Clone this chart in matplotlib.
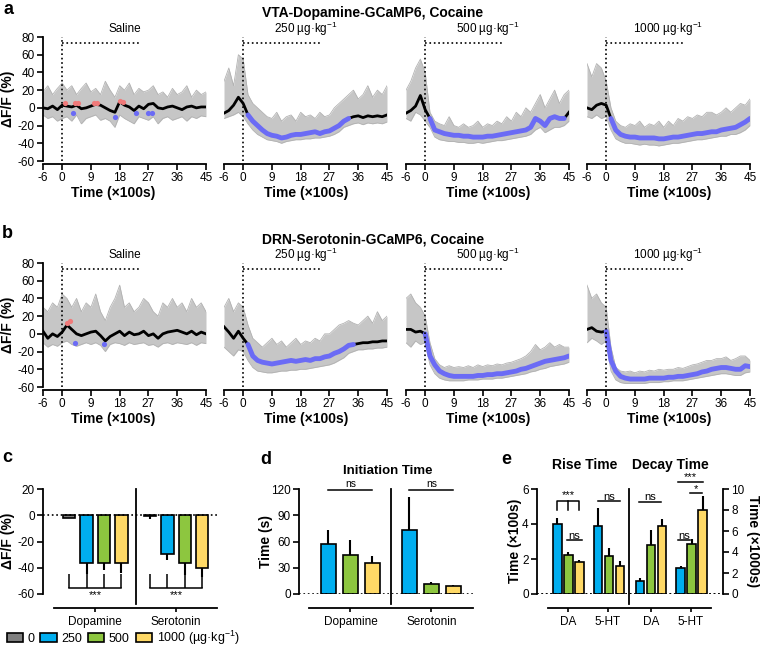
import numpy as np
import matplotlib
matplotlib.use('Agg')
import matplotlib.pyplot as plt
from matplotlib.patches import Patch

plt.rcParams['font.family'] = ['Liberation Sans', 'DejaVu Sans']
plt.rcParams['axes.unicode_minus'] = False
plt.rcParams['mathtext.fontset'] = 'custom'
plt.rcParams['mathtext.rm'] = 'Liberation Sans'
plt.rcParams['mathtext.it'] = 'Liberation Sans:italic'
plt.rcParams['mathtext.bf'] = 'Liberation Sans:bold'

# ---- trace data (x in 100 s, step 1.5 from -6 to 45) ----
t_grid = np.arange(-6, 45.01, 1.5)

vta_sal_mean = [0, -1, 2, -2, 3, 2, 1, 3, -1, 0, 2, 4, 3, 0, -3, -5, 7, 3, 1, -3, 2, -1, 4, 5, 0, -1, 1, 2, 0, -2, 1, 2, 0, 1, 1]
vta_sal_hi = [18, 25, 15, 22, 28, 20, 25, 15, 22, 28, 18, 22, 15, 30, 20, 12, 25, 20, 28, 15, 22, 18, 20, 25, 15, 18, 12, 22, 15, 18, 25, 12, 20, 15, 18]
vta_sal_lo = [-8, -12, -10, -15, -12, -10, -15, -8, -18, -12, -10, -8, -14, -12, -15, -22, -8, -12, -15, -18, -10, -12, -14, -10, -18, -12, -10, -14, -12, -10, -15, -10, -12, -9, -10]
vta_sal_up_x = [1, 4, 5, 10, 11, 18, 19]
vta_sal_up_y = [6, 6, 6, 6, 6, 8, 7]
vta_sal_dn_x = [3.5, 16.5, 23, 27, 28]
vta_sal_dn_y = [-6, -10, -6, -6, -6]

vta_250_mean = [-6, -3, 3, 12, 5, -8, -15, -20, -25, -29, -31, -32, -34, -33, -31, -30, -30, -29, -28, -27, -29, -27, -26, -23, -20, -15, -12, -10, -9, -11, -9, -10, -9, -10, -8]
vta_250_hi = [30, 45, 25, 60, 55, 15, 5, 0, -5, -10, -12, -5, -15, -10, -8, -15, -5, -10, -8, -12, -5, -10, -8, 0, 5, 10, 15, 20, 10, 15, 25, 12, 20, 15, 25]
vta_250_lo = [-12, -10, -8, -5, -10, -18, -25, -30, -33, -36, -37, -38, -40, -38, -37, -36, -36, -35, -35, -34, -34, -33, -32, -30, -27, -22, -20, -18, -17, -19, -17, -18, -17, -18, -16]

vta_500_mean = [-6, -3, 2, 14, -2, -12, -25, -27, -29, -30, -31, -31, -32, -32, -33, -33, -33, -32, -32, -31, -30, -29, -28, -27, -26, -25, -22, -12, -15, -20, -12, -10, -12, -12, -5]
vta_500_hi = [20, 30, 45, 55, 40, -5, -15, -18, -20, -10, -20, -22, -18, -22, -20, -15, -22, -18, -20, -15, -18, -10, -15, -5, -10, 0, -5, 5, 15, 0, 10, 20, 5, 15, 20]
vta_500_lo = [-12, -15, -5, -8, -15, -22, -33, -36, -37, -38, -38, -39, -39, -40, -40, -39, -40, -39, -38, -37, -37, -36, -35, -34, -33, -32, -30, -25, -22, -28, -25, -22, -22, -20, -15]

vta_1000_mean = [0, -2, 3, 5, 3, -12, -25, -30, -32, -33, -33, -34, -34, -34, -34, -35, -35, -34, -33, -33, -32, -31, -30, -29, -29, -28, -27, -27, -25, -24, -23, -22, -19, -16, -12]
vta_1000_hi = [50, 35, 50, 45, 30, 0, -15, -20, -22, -18, -20, -15, -22, -18, -20, -15, -22, -15, -20, -12, -15, -10, -12, -8, -10, -5, -5, -8, -5, 0, -5, 0, 5, 3, 10]
vta_1000_lo = [-10, -12, -8, -12, -10, -25, -35, -38, -40, -40, -41, -42, -41, -42, -42, -43, -42, -41, -40, -40, -39, -38, -37, -36, -36, -35, -34, -33, -32, -32, -30, -30, -28, -25, -20]

drn_sal_mean = [3, -5, 0, -3, 2, 10, 5, 0, -2, 0, 2, 3, -2, -8, -3, 0, 3, -2, 2, -1, 0, 3, -2, 0, -5, 0, 2, 3, 4, 2, 0, 3, -1, 2, 0]
drn_sal_hi = [30, 25, 35, 30, 45, 40, 30, 40, 25, 35, 30, 45, 25, 15, 30, 40, 55, 30, 35, 25, 30, 40, 35, 25, 20, 35, 30, 40, 30, 35, 25, 40, 30, 35, 25]
drn_sal_lo = [-10, -15, -12, -14, -10, -8, -12, -14, -12, -10, -12, -10, -13, -20, -12, -10, -11, -13, -10, -12, -11, -10, -13, -12, -15, -11, -10, -12, -10, -11, -12, -10, -13, -10, -11]
drn_sal_up_x = [1.5, 2.5]
drn_sal_up_y = [12, 14]
drn_sal_dn_x = [4, 13]
drn_sal_dn_y = [-10, -12]

drn_250_mean = [8, 2, -5, 3, -5, -12, -25, -30, -32, -33, -34, -33, -32, -31, -30, -31, -30, -29, -30, -28, -28, -26, -25, -22, -20, -17, -13, -12, -11, -10, -10, -9, -9, -8, -8]
drn_250_hi = [30, 40, 25, 35, 30, 10, -5, -10, -15, -10, -5, -12, -8, -15, -10, -5, -12, -8, -10, -5, -8, 0, 0, 5, 10, 12, 15, 12, 10, 15, 20, 12, 25, 15, 20]
drn_250_lo = [-15, -20, -25, -18, -20, -30, -38, -42, -43, -44, -44, -43, -42, -42, -41, -41, -40, -40, -39, -38, -37, -36, -35, -33, -30, -27, -22, -20, -18, -18, -17, -17, -16, -16, -15]

drn_500_mean = [5, 5, 2, 3, 0, -25, -35, -42, -45, -47, -48, -48, -48, -48, -48, -47, -47, -46, -46, -45, -45, -44, -43, -42, -40, -39, -37, -35, -33, -31, -30, -29, -28, -27, -25]
drn_500_hi = [40, 45, 35, 30, 20, -10, -28, -35, -38, -36, -38, -37, -38, -36, -38, -35, -37, -35, -36, -34, -35, -33, -32, -30, -28, -25, -20, -12, -18, -15, -10, -15, -12, -15, -15]
drn_500_lo = [-10, -15, -8, -12, -10, -35, -45, -50, -52, -53, -53, -53, -53, -52, -52, -52, -51, -51, -51, -50, -50, -49, -48, -47, -46, -45, -43, -42, -40, -39, -37, -36, -35, -34, -32]

drn_1000_mean = [5, 7, 3, 2, 3, -30, -42, -48, -50, -51, -51, -51, -51, -50, -50, -50, -50, -49, -49, -48, -48, -47, -46, -45, -43, -42, -40, -39, -38, -38, -39, -40, -40, -36, -37]
drn_1000_hi = [55, 40, 45, 35, 30, -15, -38, -42, -43, -42, -44, -42, -43, -41, -42, -40, -41, -40, -40, -38, -39, -37, -35, -34, -32, -30, -30, -28, -28, -26, -30, -28, -25, -25, -30]
drn_1000_lo = [-10, -5, -8, -12, -8, -42, -52, -55, -56, -56, -56, -56, -56, -55, -55, -55, -54, -54, -53, -53, -53, -52, -51, -50, -49, -48, -47, -46, -45, -45, -46, -47, -47, -44, -43]

dose_titles = ['Saline', '250 µg·kg$^{-1}$', '500 µg·kg$^{-1}$', '1000 µg·kg$^{-1}$']
x_ticks = [-6, 0, 9, 18, 27, 36, 45]

# ---- bar data ----
dose_labels = ['0', '250', '500', '1000 (µg·kg$^{-1}$)']
c_da = [-2.4, -36.1, -36.1, -36.1]
c_da_err = [-2.4, -44.8, -41.7, -44.2]
c_5ht = [-0.6, -29.5, -36.6, -40.4]
c_5ht_err = [-2.9, -34.1, -45.5, -47.3]

d_da = [56.9, 44.3, 35.9]
d_da_err = [72.6, 61.9, 43.6]
d_5ht = [72.6, 11.5, 9.2]
d_5ht_err = [110.8, 13.4, 10.7]

rise_da = [4.0, 2.24, 1.82]
rise_da_err = [4.34, 2.41, 1.95]
rise_5ht = [3.9, 2.2, 1.6]
rise_5ht_err = [4.91, 2.64, 1.91]
decay_da = [1.24, 4.68, 6.43]
decay_da_err = [1.56, 6.1, 7.13]
decay_5ht = [2.45, 4.78, 7.96]
decay_5ht_err = [2.67, 5.25, 9.36]

GREY_BAND = '#c6c6c6'
SIG_BLUE = '#6b6bf5'
SIG_RED = '#f07a7a'
bar_colors = ['#7f7f7f', '#00aeef', '#8dc63f', '#ffd966']

W, H = 760, 650
fig = plt.figure(figsize=(W / 100, H / 100), dpi=100)


def rect(l, t, w, h):
    return [l / W, 1 - (t + h) / H, w / W, h / H]


def trace_panel(left, top, mean, hi, lo, span, title, first, up=None, dn=None):
    ax = fig.add_axes(rect(left, top, 163, 124))
    ax.fill_between(t_grid, lo, hi, color=GREY_BAND, lw=0, zorder=1)
    ax.plot(t_grid, hi, color='#b2b2b2', lw=0.6, zorder=1)
    ax.plot(t_grid, lo, color='#b2b2b2', lw=0.6, zorder=1)
    mean = np.array(mean)
    ax.plot(t_grid, mean, color='black', lw=2, zorder=3)
    if span is not None:
        m = (t_grid >= span[0]) & (t_grid <= span[1])
        ax.plot(t_grid[m], mean[m], color=SIG_BLUE, lw=3.5, zorder=4, solid_capstyle='round')
    if up is not None:
        ax.scatter(up[0], up[1], s=14, color=SIG_RED, zorder=5, lw=0)
    if dn is not None:
        ax.scatter(dn[0], dn[1], s=14, color=SIG_BLUE, zorder=5, lw=0)
    ax.plot([0, 0], [-60, 80], ls=':', color='black', lw=1.2, zorder=6)
    ax.plot([0, 24], [73, 73], ls=':', color='black', lw=1.2, zorder=6)
    ax.set_xlim(-6, 45)
    ax.set_ylim(-60, 80)
    ax.set_xticks(x_ticks)
    for s in ['top', 'right']:
        ax.spines[s].set_visible(False)
    ax.spines['bottom'].set_position(('outward', 2))
    ax.spines['bottom'].set_linewidth(1.3)
    ax.spines['left'].set_linewidth(1.3)
    ax.tick_params(direction='out', length=4, width=1.2, labelsize=8.5, pad=2)
    if first:
        ax.set_yticks(range(-60, 81, 20))
    else:
        ax.spines['left'].set_visible(False)
        ax.set_yticks([])
    ax.text(0.5, 1.065, title, transform=ax.transAxes, ha='center', va='center', fontsize=8.5)
    return ax


lefts = [43, 224, 406, 587]
vta = [(vta_sal_mean, vta_sal_hi, vta_sal_lo, None),
       (vta_250_mean, vta_250_hi, vta_250_lo, (1.5, 33)),
       (vta_500_mean, vta_500_hi, vta_500_lo, (1.5, 43.5)),
       (vta_1000_mean, vta_1000_hi, vta_1000_lo, (1.5, 45))]
drn = [(drn_sal_mean, drn_sal_hi, drn_sal_lo, None),
       (drn_250_mean, drn_250_hi, drn_250_lo, (1.5, 34.5)),
       (drn_500_mean, drn_500_hi, drn_500_lo, (0, 45)),
       (drn_1000_mean, drn_1000_hi, drn_1000_lo, (0, 45))]

for i, (m, hi, lo, sp) in enumerate(vta):
    up = (vta_sal_up_x, vta_sal_up_y) if i == 0 else None
    dn = (vta_sal_dn_x, vta_sal_dn_y) if i == 0 else None
    trace_panel(lefts[i], 37, m, hi, lo, sp, dose_titles[i], i == 0, up, dn)
for i, (m, hi, lo, sp) in enumerate(drn):
    up = (drn_sal_up_x, drn_sal_up_y) if i == 0 else None
    dn = (drn_sal_dn_x, drn_sal_dn_y) if i == 0 else None
    trace_panel(lefts[i], 263, m, hi, lo, sp, dose_titles[i], i == 0, up, dn)

xlab_x = [113, 306, 488, 669]
for y in [193, 419]:
    for xc in xlab_x:
        fig.text(xc / W, 1 - y / H, 'Time (×100s)', ha='center', va='center', fontsize=10, fontweight='bold')
fig.text(373 / W, 1 - 13 / H, 'VTA-Dopamine-GCaMP6, Cocaine', ha='center', va='center', fontsize=10, fontweight='bold')
fig.text(373 / W, 1 - 240 / H, 'DRN-Serotonin-GCaMP6, Cocaine', ha='center', va='center', fontsize=10, fontweight='bold')
fig.text(8 / W, 1 - 99 / H, 'ΔF/F (%)', rotation=90, ha='center', va='center', fontsize=10, fontweight='bold')
fig.text(8 / W, 1 - 325 / H, 'ΔF/F (%)', rotation=90, ha='center', va='center', fontsize=10, fontweight='bold')

for lab, (x, y) in zip('abcde', [(8, 9), (7, 234), (7, 457), (266, 459), (506, 460)]):
    fig.text(x / W, 1 - y / H, lab, ha='center', va='center', fontsize=13, fontweight='bold')


def style_bar_axes(ax, sep_x, below):
    for s in ['top', 'right']:
        ax.spines[s].set_visible(False)
    ax.spines['bottom'].set_position(('outward', 10))
    ax.spines['bottom'].set_linewidth(1.3)
    ax.spines['left'].set_linewidth(1.3)
    ax.tick_params(direction='out', length=4, width=1.2, labelsize=8.5, pad=2)
    ax.tick_params(axis='x', length=3, pad=3)
    ax.axhline(0, ls=':', color='black', lw=1.2, zorder=5)
    ax.axvline(sep_x, ymin=-below, ymax=1, color='black', lw=1.3, clip_on=False, zorder=6)


def draw_bars(ax, pos, vals, errs, width, colors, zo=3):
    for p, v, e, c in zip(pos, vals, errs, colors):
        ax.vlines(p, v, e, color='black', lw=1.5, zorder=zo - 1)
        ax.bar(p, v, width=width, color=c, edgecolor='black', lw=1.2, zorder=zo)


def sig_line(ax, x0, x1, y, txt, ty, fs=8):
    ax.plot([x0, x1], [y, y], color='black', lw=1.1, clip_on=False, zorder=7)
    ax.text((x0 + x1) / 2, ty, txt, ha='center', va='center', fontsize=fs, clip_on=False)


# ---- panel c ----
axc = fig.add_axes(rect(43, 489, 174, 105))
pos_da = np.array([0, 1, 2, 3])
pos_5ht = pos_da + 4.65
draw_bars(axc, pos_da, c_da, c_da_err, 0.72, bar_colors)
draw_bars(axc, pos_5ht, c_5ht, c_5ht_err, 0.72, bar_colors)
axc.set_xlim(-1.5, 8.5)
axc.set_ylim(-60, 20)
axc.set_yticks([-60, -40, -20, 0, 20])
axc.set_xticks([1.5, 6.15])
axc.set_xticklabels(['Dopamine', 'Serotonin'])
style_bar_axes(axc, 3.85, 0.095)
axc.spines['bottom'].set_bounds(-0.86, 8.5)
for pos in [pos_da, pos_5ht]:
    axc.plot([pos[0], pos[-1]], [-55.5, -55.5], color='black', lw=1.1, zorder=7)
    axc.vlines(pos, -45, -55.5, color='black', lw=1.1, zorder=7)
    axc.text(pos.mean(), -60.5, '***', ha='center', va='center', fontsize=8, clip_on=False)
fig.text(8 / W, 1 - 541 / H, 'ΔF/F (%)', rotation=90, ha='center', va='center', fontsize=10, fontweight='bold')

handles = [Patch(facecolor=c, edgecolor='black', lw=1.2) for c in bar_colors]
fig.legend(handles, dose_labels, loc='center', bbox_to_anchor=(123 / W, 1 - 638 / H), ncol=4,
           frameon=False, fontsize=9, handlelength=1.3, handleheight=0.7, handletextpad=0.35,
           columnspacing=0.5, borderpad=0)

# ---- panel d ----
axd = fig.add_axes(rect(299, 489, 174, 105))
pos_d1 = np.array([0, 1, 2])
pos_d2 = pos_d1 + 3.68
draw_bars(axd, pos_d1, d_da, d_da_err, 0.68, bar_colors[1:])
draw_bars(axd, pos_d2, d_5ht, d_5ht_err, 0.68, bar_colors[1:])
axd.set_xlim(-1.34, 6.57)
axd.set_ylim(0, 120)
axd.set_yticks([0, 30, 60, 90, 120])
axd.set_xticks([1, 4.68])
axd.set_xticklabels(['Dopamine', 'Serotonin'])
style_bar_axes(axd, 2.84, 0.095)
axd.spines['bottom'].set_bounds(-0.89, 6.57)
sig_line(axd, pos_d1[0], pos_d1[-1], 119.2, 'ns', 125.5, fs=7.5)
sig_line(axd, pos_d2[0], pos_d2[-1], 119.2, 'ns', 125.5, fs=7.5)
axd.text(2.7, 140.5, 'Initiation Time', ha='center', va='center', fontsize=9.5, fontweight='bold', clip_on=False)
fig.text(266 / W, 1 - 541 / H, 'Time (s)', rotation=90, ha='center', va='center', fontsize=10, fontweight='bold')

# ---- panel e ----
axe = fig.add_axes(rect(537, 489, 186, 105))
pos_e1 = np.array([0, 1, 2])
pos_e2 = pos_e1 + 3.7
pos_e3 = pos_e1 + 7.5
pos_e4 = pos_e1 + 11.2
draw_bars(axe, pos_e1, rise_da, rise_da_err, 0.77, bar_colors[1:])
draw_bars(axe, pos_e2, rise_5ht, rise_5ht_err, 0.77, bar_colors[1:])
axe.set_xlim(-1.85, 15.05)
axe.set_ylim(0, 6)
axe.set_yticks([0, 2, 4, 6])
axe.set_xticks([1, 4.6, 8.5, 12.1])
axe.set_xticklabels(['DA', '5-HT', 'DA', '5-HT'])
style_bar_axes(axe, 6.5, 0.095)
axe.spines['bottom'].set_bounds(-0.85, 13.96)

axe2 = axe.twinx()
axe2.set_ylim(0, 10)
axe2.set_yticks([0, 2, 4, 6, 8, 10])
draw_bars(axe2, pos_e3, decay_da, decay_da_err, 0.77, bar_colors[1:])
draw_bars(axe2, pos_e4, decay_5ht, decay_5ht_err, 0.77, bar_colors[1:])
for s in ['top', 'left', 'bottom']:
    axe2.spines[s].set_visible(False)
axe2.spines['right'].set_linewidth(1.3)
axe2.tick_params(direction='out', length=4, width=1.2, labelsize=8.5, pad=2)
axe2.axhline(0, ls=':', color='black', lw=1.2, zorder=5)

# significance marks in left-axis units
axe.plot([0, 0, 2, 2], [4.82, 5.33, 5.33, 4.82], color='black', lw=1.1, clip_on=False, zorder=7)
axe.plot([1, 1], [4.82, 5.33], color='black', lw=1.1, clip_on=False, zorder=7)
axe.text(1, 5.65, '***', ha='center', va='center', fontsize=8, clip_on=False)
sig_line(axe, 0.9, 2.2, 3.06, 'ns', 3.32, fs=8)
sig_line(axe, pos_e2[0], pos_e2[-1], 5.3, 'ns', 5.56, fs=8)
sig_line(axe, pos_e3[0] - 0.1, pos_e3[-1] - 0.1, 5.26, 'ns', 5.52, fs=8)
sig_line(axe, pos_e4[0] - 0.2, pos_e4[1] - 0.15, 3.06, 'ns', 3.32, fs=8)
sig_line(axe, pos_e4[1] - 0.15, pos_e4[2] - 0.1, 5.77, '*', 6.02, fs=8)
sig_line(axe, pos_e4[0] - 0.2, pos_e4[2] + 0.0, 6.4, '***', 6.68, fs=8)

fig.text(585 / W, 1 - 465 / H, 'Rise Time', ha='center', va='center', fontsize=10, fontweight='bold')
fig.text(670 / W, 1 - 465 / H, 'Decay Time', ha='center', va='center', fontsize=10, fontweight='bold')
fig.text(515 / W, 1 - 541 / H, 'Time (×100s)', rotation=90, ha='center', va='center', fontsize=10, fontweight='bold')
fig.text(753 / W, 1 - 541 / H, 'Time (×1000s)', rotation=270, ha='center', va='center', fontsize=10, fontweight='bold')

fig.savefig('out.png', dpi=100)
